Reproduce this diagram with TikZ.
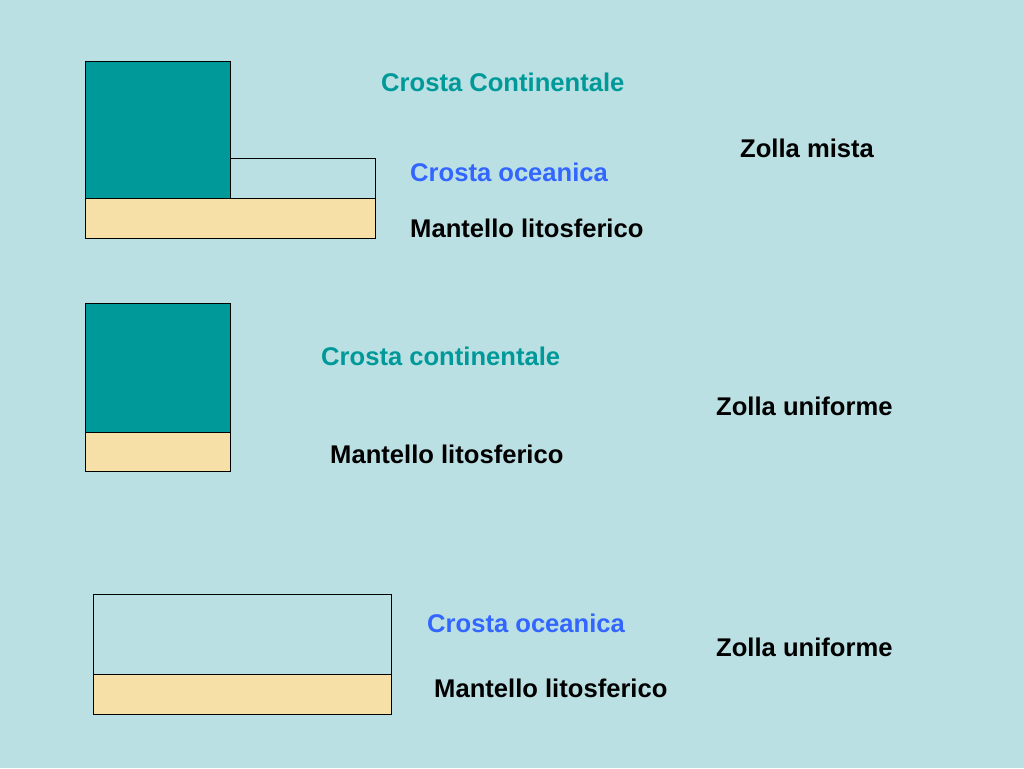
\documentclass[tikz,border=0pt]{standalone}
\usepackage{fontspec}
\setmainfont{Liberation Sans}
\definecolor{bgc}{HTML}{BAE0E3}
\definecolor{tealc}{HTML}{009999}
\definecolor{beigec}{HTML}{F7DFA8}
\definecolor{bluec}{HTML}{3366FF}
\begin{document}
\begin{tikzpicture}[x=1pt,y=-1pt,
  lbl/.style={anchor=base west,inner sep=0pt,font=\fontsize{25.6}{30}\selectfont\bfseries},
  box/.style={draw=black,line width=0.8pt}]
\fill[bgc] (0,0) rectangle (1024,768);
\useasboundingbox (0,0) rectangle (1024,768);
% top
\draw[box,fill=tealc] (85,61) rectangle (230,198);
\draw[box,fill=bgc] (230,158) rectangle (375,198);
\draw[box,fill=beigec] (85,198) rectangle (375,238);
% middle
\draw[box,fill=tealc] (85,303) rectangle (230,432);
\draw[box,fill=beigec] (85,432) rectangle (230,471);
% bottom
\draw[box,fill=bgc] (93,594) rectangle (391,674);
\draw[box,fill=beigec] (93,674) rectangle (391,714);
% labels
\node[lbl,text=tealc] (t1) at (381,91) {Crosta Continentale};
\node[lbl,text=bluec] (t2) at (410,181) {Crosta oceanica};
\node[lbl] (t3) at (410,237) {Mantello litosferico};
\node[lbl] (t4) at (740,157) {Zolla mista};
\node[lbl,text=tealc] (m1) at (321,365) {Crosta continentale};
\node[lbl] (m2) at (716,415) {Zolla uniforme};
\node[lbl] (m3) at (330,463) {Mantello litosferico};
\node[lbl,text=bluec] (b1) at (427,632) {Crosta oceanica};
\node[lbl] (b2) at (716,656) {Zolla uniforme};
\node[lbl] (b3) at (434,697) {Mantello litosferico};
\end{tikzpicture}
\end{document}
